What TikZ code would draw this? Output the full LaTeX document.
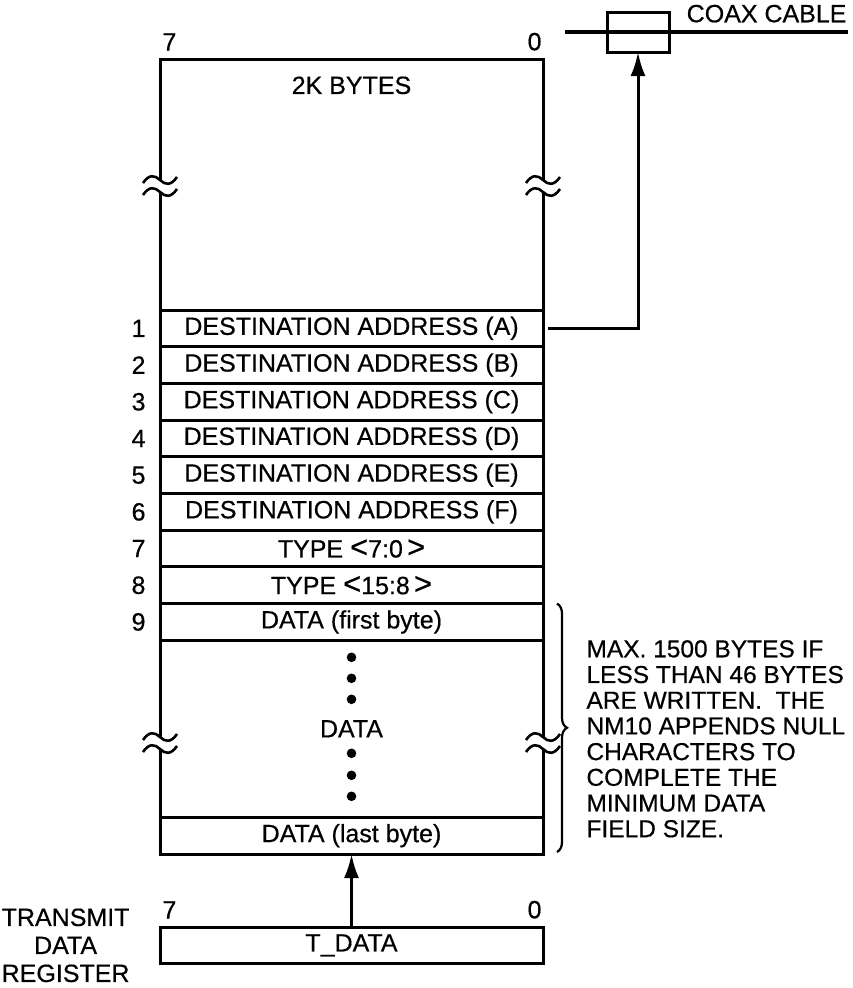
\documentclass[tikz,border=0pt]{standalone}
\usepackage{fontspec}
\setmainfont{Liberation Sans}[FakeBold=0.5]
\usetikzlibrary{positioning,arrows.meta,calc,decorations.pathreplacing}

\newcommand{\lbr}{{\fontsize{31}{31}\selectfont<}}
\newcommand{\rbr}{{\fontsize{31}{31}\selectfont>}}

\tikzset{
    brk/.pic={
        \fill[white] (-4,-6) rectangle (4,6);
        \draw[line width=2.6pt] (-17,-3) .. controls (-11,-12) and (-5,-11) .. (0,-6) .. controls (5,-1) and (11,0) .. (17,-9);
        \draw[line width=2.6pt] (-17,9) .. controls (-11,0) and (-5,1) .. (0,6) .. controls (5,11) and (11,12) .. (17,3);
    }
}

\begin{document}
\begin{tikzpicture}[
    x=1pt, y=-1pt,
    line width=3pt,
    font=\fontsize{25}{28}\selectfont,
    field/.style={draw, minimum width=383pt, minimum height=36.7pt, inner sep=0pt, outer sep=0pt},
    idx/.style={inner sep=0pt},
    arrow/.style={-{Latex[length=24pt, width=15pt]}, line width=3pt}
]

\useasboundingbox (0,0) rectangle (852,988);

\node[draw, minimum width=383pt, minimum height=795pt, outer sep=0pt] (mem) at (351.5,456.5) {};
\node[idx, anchor=south west] (msb) at ($(mem.north west)+(1,-7)$) {7};
\node[idx, anchor=south east] (lsb) at ($(mem.north east)+(0,-7)$) {0};
\node[idx, below=16pt of mem.north] (size) {2K BYTES};

\node[field, below=251pt of mem.north] (r1) {DESTINATION ADDRESS (A)};
\node[field, below=0pt of r1] (r2) {DESTINATION ADDRESS (B)};
\node[field, below=0pt of r2] (r3) {DESTINATION ADDRESS (C)};
\node[field, below=0pt of r3] (r4) {DESTINATION ADDRESS (D)};
\node[field, below=0pt of r4] (r5) {DESTINATION ADDRESS (E)};
\node[field, below=0pt of r5] (r6) {DESTINATION ADDRESS (F)};
\node[field, below=0pt of r6] (r7) {TYPE \lbr7:0\,\rbr};
\node[field, below=0pt of r7] (r8) {TYPE \lbr15:8\,\rbr};
\node[field, below=0pt of r8] (r9) {DATA (first byte)};
\node[field, above=0pt of mem.south] (rlast) {DATA (last byte)};

\node[idx, left=13pt of r1] (n1) {1};
\node[idx, left=13pt of r2] (n2) {2};
\node[idx, left=13pt of r3] (n3) {3};
\node[idx, left=13pt of r4] (n4) {4};
\node[idx, left=13pt of r5] (n5) {5};
\node[idx, left=13pt of r6] (n6) {6};
\node[idx, left=13pt of r7] (n7) {7};
\node[idx, left=13pt of r8] (n8) {8};
\node[idx, left=13pt of r9] (n9) {9};

\node[idx] (dmid) at ($(r9.south)!0.5!(rlast.north)$) {DATA};
\foreach \dy in {-71.5,-50.5,-29.5,24.5,46.5,67.5}
    \fill (dmid) ++(0,\dy) circle (4.8pt);

\pic at ($(mem.north west)+(0,127)$) {brk};
\pic at ($(mem.north east)+(0,127)$) {brk};
\pic at ($(mem.north west)+(0,684)$) {brk};
\pic at ($(mem.north east)+(0,684)$) {brk};

\draw[line width=2.2pt, decorate, decoration={brace, amplitude=10pt}] ($(r9.north east)+(14,0)$) -- ($(rlast.south east)+(14,-2)$);
\coordinate (tip) at ($(r9.north east)!0.5!(rlast.south east)+(29,0)$);
\node[anchor=west, align=left, inner sep=0pt, font=\fontsize{24.5}{25.7}\selectfont] (note) at ($(tip)+(13,10)$) {MAX. 1500 BYTES IF\\LESS THAN 46 BYTES\\ARE WRITTEN.~ THE\\NM10 APPENDS NULL\\CHARACTERS TO\\COMPLETE THE\\MINIMUM DATA\\FIELD SIZE.};

\node[draw, minimum width=62pt, minimum height=40pt, outer sep=0pt] (coax) at (638,32) {};
\coordinate (cabL) at (565,32);
\coordinate (cabR) at (848,32);
\draw[line width=4.5pt] (cabL) -- (cabR);
\node[idx, anchor=south east] (cabtxt) at ($(cabR)+(0,-8)$) {COAX CABLE};
\draw[arrow] ([xshift=5pt]r1.east) -| (coax.south);

\node[field, below=73pt of rlast] (tdata) {T\_DATA};
\node[idx, anchor=south west] (tmsb) at ($(tdata.north west)+(1,-7)$) {7};
\node[idx, anchor=south east] (tlsb) at ($(tdata.north east)+(0,-7)$) {0};
\node[align=center, inner sep=0pt, left=29pt of tdata] (treg) {TRANSMIT\\DATA\\REGISTER};
\draw[arrow] (tdata) -- (rlast);

\end{tikzpicture}
\end{document}
